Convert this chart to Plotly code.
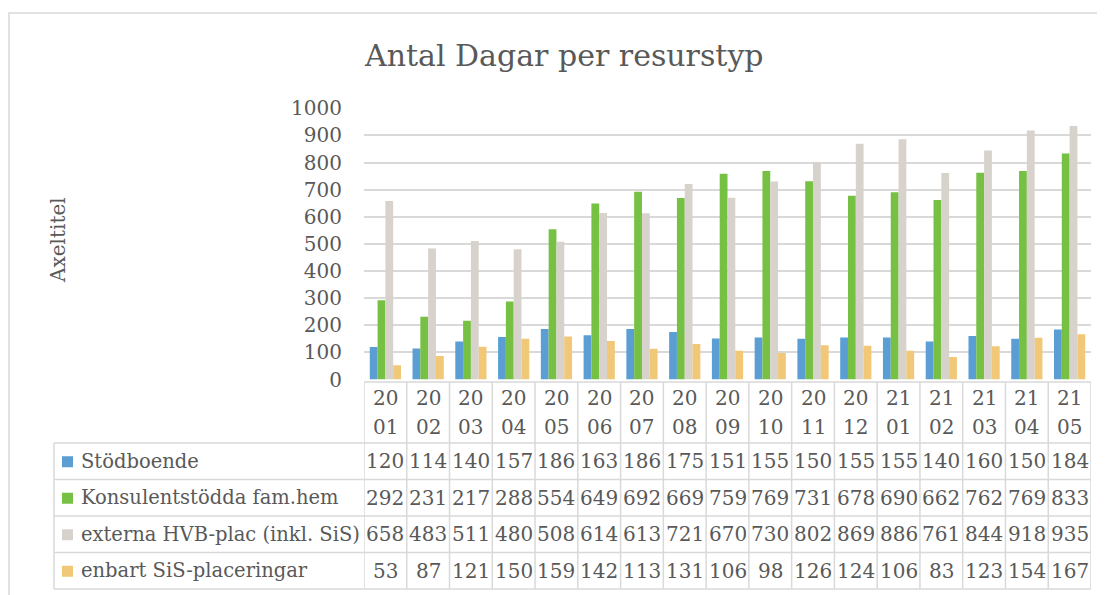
import plotly.graph_objects as go

categories = ["2001", "2002", "2003", "2004", "2005", "2006", "2007", "2008", "2009",
              "2010", "2011", "2012", "2101", "2102", "2103", "2104", "2105"]
series_names = ["Stödboende", "Konsulentstödda fam.hem",
                "externa HVB-plac (inkl. SiS)", "enbart SiS-placeringar"]
stodboende = [120, 114, 140, 157, 186, 163, 186, 175, 151, 155, 150, 155, 155, 140, 160, 150, 184]
konsulent = [292, 231, 217, 288, 554, 649, 692, 669, 759, 769, 731, 678, 690, 662, 762, 769, 833]
externa_hvb = [658, 483, 511, 480, 508, 614, 613, 721, 670, 730, 802, 869, 886, 761, 844, 918, 935]
enbart_sis = [53, 87, 121, 150, 159, 142, 113, 131, 106, 98, 126, 124, 106, 83, 123, 154, 167]
series_values = [stodboende, konsulent, externa_hvb, enbart_sis]
colors = ["#5A9ED4", "#76C043", "#D8D2CC", "#F0C878"]
y_ticks = [0, 100, 200, 300, 400, 500, 600, 700, 800, 900, 1000]

FONT = "DejaVu Serif"
TXT = "#595959"
GRID = "#d9d9d9"
NUM_SIZE = 20

# page body has an 8px margin; figure is sized to fit the window
OFF = 8
W, H = 1105 - OFF, 595 - OFF
px = lambda x: (x - OFF) / W
py = lambda y: 1 - (y - OFF) / H

plot_l, plot_r = 364, 1091
plot_top, plot_bot = 108.3, 379.5
table_l = 54
hdr_top, hdr_bot = 382, 443
row_edges = [443, 479.5, 516, 552.5, 589]
hdr_line_y = [397.5, 426.5]
ncat = len(categories)

fig = go.Figure()
for name, vals, col in zip(series_names, series_values, colors):
    fig.add_trace(go.Bar(x=categories, y=vals, name=name,
                         marker=dict(color=col, line=dict(width=0))))

annotations = [
    dict(text="Antal Dagar per resurstyp", xref="paper", yref="paper",
         x=px(564), y=py(56), xanchor="center", yanchor="middle", showarrow=False,
         font=dict(family=FONT, size=30, color=TXT)),
    dict(text="Axeltitel", xref="paper", yref="paper", textangle=-90,
         x=px(58), y=py(240), xanchor="center", yanchor="middle", showarrow=False,
         font=dict(family=FONT, size=20, color=TXT)),
]
shapes = [
    # outer chart border (right / bottom edges fall outside the window)
    dict(type="rect", xref="paper", yref="paper", x0=px(9), x1=1.03, y0=-0.03, y1=py(13),
         line=dict(color=GRID, width=1.5), layer="below"),
]

# data table: category header cells (x given as category index on the category axis)
for i, c in enumerate(categories):
    for txt, yy in zip([c[:2], c[2:]], hdr_line_y):
        annotations.append(dict(text=txt, xref="x", yref="paper", x=i, y=py(yy),
                                xanchor="center", yanchor="middle", showarrow=False,
                                font=dict(family=FONT, size=NUM_SIZE, color=TXT)))
# data table: values
for r, vals in enumerate(series_values):
    yc = (row_edges[r] + row_edges[r + 1]) / 2
    for i, v in enumerate(vals):
        annotations.append(dict(text=str(v), xref="x", yref="paper", x=i, y=py(yc),
                                xanchor="center", yanchor="middle", showarrow=False,
                                font=dict(family=FONT, size=NUM_SIZE, color=TXT)))
    # legend key + series name
    annotations.append(dict(text=series_names[r], xref="paper", yref="paper", x=px(79), y=py(yc),
                            xanchor="left", yanchor="middle", showarrow=False,
                            font=dict(family=FONT, size=19.5, color=TXT)))
    shapes.append(dict(type="rect", xref="paper", yref="paper", x0=px(62), x1=px(73),
                       y0=py(yc + 6), y1=py(yc - 5), fillcolor=colors[r], line=dict(width=0)))

# table grid lines
for i in range(ncat + 1):
    shapes.append(dict(type="line", xref="x", yref="paper", x0=i - 0.5, x1=i - 0.5,
                       y0=py(hdr_top), y1=py(row_edges[-1]), line=dict(color=GRID, width=1.5)))
shapes.append(dict(type="line", xref="x", yref="paper", x0=-0.5, x1=ncat - 0.5,
                   y0=py(hdr_top), y1=py(hdr_top), line=dict(color=GRID, width=1.5)))
for ye in row_edges:
    shapes.append(dict(type="line", xref="paper", yref="paper", x0=px(table_l), x1=px(plot_r),
                       y0=py(ye), y1=py(ye), line=dict(color=GRID, width=1.5)))
shapes.append(dict(type="line", xref="paper", yref="paper", x0=px(table_l), x1=px(table_l),
                   y0=py(row_edges[0]), y1=py(row_edges[-1]), line=dict(color=GRID, width=1.5)))

fig.update_layout(
    width=W, height=H,
    margin=dict(l=0, r=0, t=0, b=0, autoexpand=False),
    paper_bgcolor="white", plot_bgcolor="white",
    showlegend=False,
    barmode="group", bargap=0.27, bargroupgap=0,
    font=dict(family=FONT, color=TXT),
    xaxis=dict(domain=[px(plot_l), px(plot_r)], type="category", range=[-0.5, ncat - 0.5],
               showticklabels=False, showgrid=False, zeroline=False, showline=False, ticks="",
               automargin=False),
    yaxis=dict(domain=[py(plot_bot), py(plot_top)], range=[0, 1000], tickvals=y_ticks,
               showgrid=True, gridcolor=GRID, gridwidth=1.5, zeroline=False, showline=False,
               ticks="", ticklabelstandoff=21, automargin=False,
               tickfont=dict(family=FONT, size=NUM_SIZE, color=TXT)),
    annotations=annotations,
    shapes=shapes,
)

fig.write_html("out.html")
